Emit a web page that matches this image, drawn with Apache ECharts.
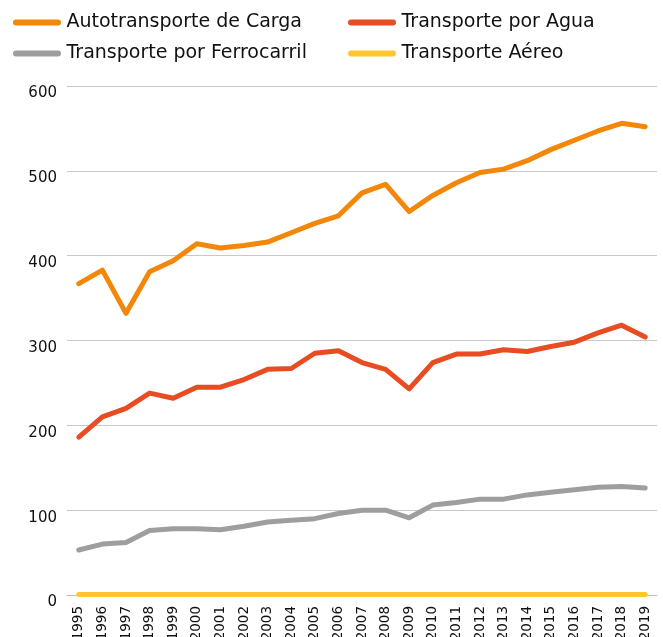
<!DOCTYPE html>
<html>
<head>
<meta charset="utf-8">
<script src="https://cdn.jsdelivr.net/npm/echarts@6/dist/echarts.min.js"></script>
<style>html,body{margin:0;padding:0;background:#fff}#c{width:663px;height:637px}</style>
</head>
<body>
<div id="c"></div>
<script>
var years = ['1995','1996','1997','1998','1999','2000','2001','2002','2003','2004','2005','2006','2007','2008','2009','2010','2011','2012','2013','2014','2015','2016','2017','2018','2019'];
var autotransporte = [367,383,332,381,394,414,409,412,416,427,438,447,474,484,452,471,486,498,502,512,525,536,547,556,552];
var agua = [186,210,220,238,232,245,245,254,266,267,285,288,274,266,243,274,284,284,289,287,293,298,309,318,304];
var ferrocarril = [53,60,62,76,78,78,77,81,86,88,90,96,100,100,91,106,109,113,113,118,121,124,127,128,126];
var aereo = [0.5,0.5,0.5,0.6,0.6,0.6,0.6,0.6,0.6,0.6,0.6,0.6,0.6,0.6,0.6,0.6,0.6,0.7,0.7,0.7,0.7,0.7,0.7,0.7,0.7];
var names = ['Autotransporte de Carga','Transporte por Agua','Transporte por Ferrocarril','Transporte Aéreo'];
var colors = ['#F2870A','#E84C23','#9E9E9E','#FFC72C'];
var FONT = 'DejaVu Sans';

var chart = echarts.init(document.getElementById('c'));
function mk(i, data){
  return {name:names[i], type:'line', data:data, symbol:'none', smooth:false,
    lineStyle:{width:5, color:colors[i], cap:'round', join:'round'}, itemStyle:{color:colors[i]}};
}
var legendPos = [[8,8],[343,8],[8,39],[343,39]];
var capsule = 'path://M3,0 L45,0 A3,3 0 0 1 45,6 L3,6 A3,3 0 0 1 3,0 Z';
var legends = names.map(function(n,i){
  return {
    left:legendPos[i][0], top:legendPos[i][1], itemWidth:49, itemHeight:6,
    icon:capsule, selectedMode:false,
    textStyle:{fontSize:19, color:'#111', fontFamily:FONT, padding:[0,0,0,0]},
    data:[n]
  };
});
chart.setOption({
  animation:false,
  textStyle:{fontFamily:FONT},
  legend:legends,
  grid:{left:67, right:6, top:86, bottom:42, containLabel:false, outerBoundsMode:'none'},
  xAxis:{
    type:'category', data:years, boundaryGap:true,
    axisLine:{lineStyle:{color:'#BDBDBD', width:1}},
    axisTick:{inside:true, length:11, lineStyle:{color:'#BDBDBD'}},
    axisLabel:{rotate:90, fontSize:13.5, color:'#111', margin:11, interval:0, fontFamily:FONT}
  },
  yAxis:{
    type:'value', min:0, max:600, interval:100,
    axisLine:{show:false}, axisTick:{show:false},
    splitLine:{lineStyle:{color:'#C8C8C8', width:1}},
    axisLabel:{fontSize:15, color:'#111', margin:10, verticalAlign:'top', fontFamily:FONT}
  },
  series:[mk(0,autotransporte), mk(1,agua), mk(2,ferrocarril), mk(3,aereo)]
});
</script>
</body>
</html>
